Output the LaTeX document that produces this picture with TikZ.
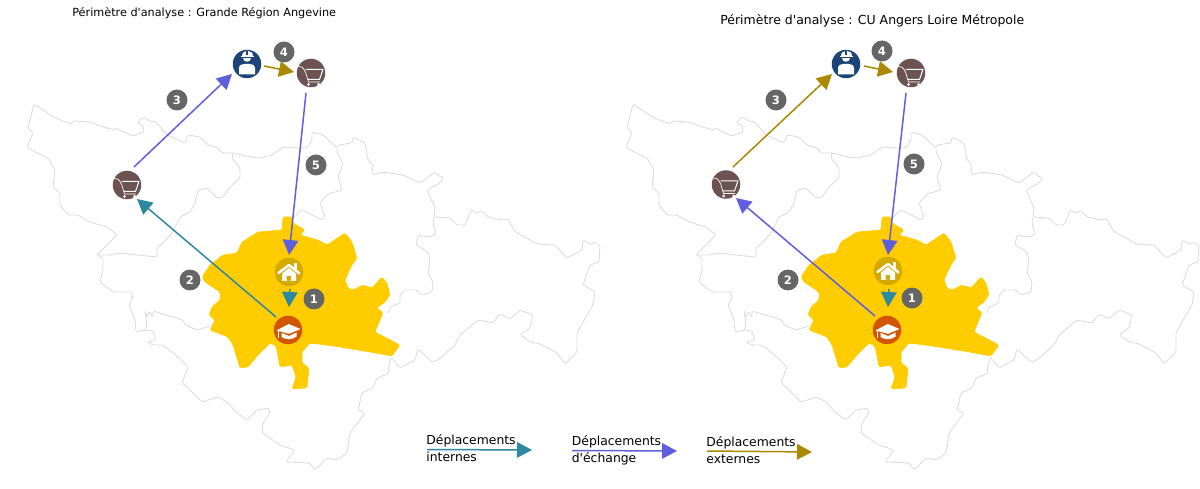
\documentclass[tikz,border=0pt]{standalone}
\usepackage{fontspec}
\setmainfont{DejaVu Sans}[Ligatures=TeXOff]
\usetikzlibrary{arrows.meta}
\definecolor{teal1}{HTML}{2C89A0}
\definecolor{purp1}{HTML}{5F5FDD}
\definecolor{gold1}{HTML}{AA8800}
\definecolor{outl}{HTML}{DDDDDD}
\definecolor{yel}{HTML}{FFCC00}
\definecolor{cartc}{HTML}{6C5353}
\definecolor{workc}{HTML}{1C4478}
\definecolor{housec}{HTML}{D4AA00}
\definecolor{studc}{HTML}{D45500}
\definecolor{badgec}{HTML}{666666}
\tikzset{
  flow/.style={line width=0.03cm,-{Triangle[length=0.3cm,width=0.31cm]}},
  tealflow/.style={flow,draw=teal1},
  purpflow/.style={flow,draw=purp1},
  goldflow/.style={flow,draw=gold1},
  limit/.style={draw=outl,line width=0.018cm,line join=round,rounded corners=0.03cm},
  icon/.style={circle,minimum size=0.57cm,inner sep=0pt},
  badge/.style={circle,fill=badgec,text=white,minimum size=0.42cm,inner sep=0pt,font=\fontsize{6.6}{7}\selectfont\bfseries},
  titlea/.style={anchor=base west,inner sep=0pt,font=\fontsize{6.4}{8}\selectfont},
  titleb/.style={anchor=base west,inner sep=0pt,font=\fontsize{7.1}{8}\selectfont},
  legend/.style={anchor=base west,inner sep=0pt,font=\fontsize{7.05}{8}\selectfont},
  basemap/.pic={
    \fill[yel,draw=yel,line width=0.01cm,line join=round,rounded corners=0.03cm] (202,277)--(210,265)--(223,255)--(237,253)--(242,242)--(258,232)--(282,230)--(283,217)--(292,217)--(293,223)--(305,230)--(300,235)--(318,240)--(327,245)--(345,233)--(352,242)--(357,258)--(352,265)--(345,280)--(348,288)--(353,290)--(363,285)--(372,288)--(382,277)--(387,283)--(390,295)--(385,302)--(377,308)--(383,313)--(375,332)--(400,345)--(392,356)--(370,352)--(333,346)--(310,343)--(302,352)--(302,363)--(309,368)--(307,388)--(292,389)--(296,377)--(292,365)--(280,367)--(276,346)--(270,343)--(258,355)--(248,367)--(240,368)--(233,345)--(228,337)--(210,330)--(215,320)--(209,315)--(212,307)--(220,300)--(220,292)--(205,282)--cycle;
    \draw[limit] (34,104)--(43,110)--(50,115)--(60,120)--(72,124)--(73,121)--(90,122)--(103,127)--(115,130)--(117,127)--(119,130)--(133,136)--(144,132)--(143,125)--(137,123)--(143,117)--(152,122)--(155,121)--(167,135)--(185,143)--(188,135)--(200,137)--(208,145)--(218,148)--(222,153)--(233,153)--(250,157)--(258,158)--(272,155)--(283,147)--(298,148)--(307,148)--(312,140)--(312,132)--(323,135)--(337,148)--(338,145)--(352,143)--(353,137)--(365,143)--(368,160)--(373,165)--(372,175)--(383,172)--(403,175)--(420,183)--(435,172)--(440,177)--(444,177)--(440,183)--(427,190)--(435,208)--(434,217)--(450,218)--(457,225)--(465,225)--(472,209)--(475,213)--(482,211)--(488,217)--(502,220)--(508,219)--(515,232)--(525,237)--(537,244)--(555,245)--(567,258)--(582,250)--(583,240)--(592,245)--(593,242)--(600,245)--(599,262)--(590,265)--(583,285)--(595,292)--(593,305)--(583,322)--(577,333)--(577,352)--(565,364)--(557,353)--(538,343)--(532,343)--(520,335)--(530,328)--(533,315)--(520,310)--(510,319)--(500,314)--(493,323)--(478,320)--(460,335)--(455,345)--(438,360)--(432,362)--(418,349)--(415,360)--(400,368)--(391,357)--(388,370)--(390,373)--(377,378)--(373,388)--(362,393)--(358,410)--(365,413)--(350,433)--(347,453)--(337,460)--(327,458)--(315,470)--(310,463)--(286,462)--(295,450)--(280,445)--(262,433)--(263,423)--(270,413)--(268,408)--(257,410)--(247,420)--(237,413)--(227,402)--(218,397)--(202,402)--(188,388)--(182,383)--(188,367)--(178,357)--(163,345)--(153,345)--(147,342)--(156,340)--(153,331)--(145,330)--(136,332)--(135,320)--(129,305)--(133,298)--(132,292)--(113,292)--(100,282)--(103,270)--(103,258)--(97,255)--(117,235)--(107,227)--(90,222)--(78,215)--(68,215)--(60,205)--(60,193)--(53,187)--(55,170)--(48,158)--(37,153)--(27,147)--(33,133)--(28,128)--cycle;
    \draw[limit] (233,153)--(232,158)--(240,168)--(240,178)--(230,187)--(223,197)--(217,198)--(207,188)--(198,190)--(195,203)--(190,212)--(180,217)--(173,232)--(163,243)--(157,248)--(157,257)--(137,255)--(120,253)--(110,255)--(97,255);
    \draw[limit] (145,330)--(147,325)--(145,310)--(147,318)--(149,311)--(153,318)--(153,311)--(183,320)--(185,325)--(197,330)--(210,326);
    \draw[limit] (337,148)--(337,153)--(343,163)--(338,177)--(342,190)--(328,194)--(320,203)--(325,217)--(322,220)--(312,215)--(302,210)--(294,217);
    \draw[limit] (434,217)--(433,223)--(436,235)--(428,237)--(418,235)--(416,245)--(428,252)--(430,260)--(428,273)--(433,282)--(432,292)--(422,295)--(417,290)--(405,290)--(400,295)--(400,303)--(390,307)--(388,313);
  },
  cartpic/.pic={
    \draw[white,line width=0.014cm,line cap=round,line join=round] (-12.5,-6.5) .. controls (-8,-6.5) and (-7,-4) .. (-5.5,-1) -- (-2.5,9) -- (9,9);
    \draw[white,line width=0.02cm,line join=round] (-5.5,-3.7)--(12,-3.7)--(8.5,6.5)--(-2.8,6.5);
    \fill[white] (-2.5,11.5) circle (1.5) (7.5,11.5) circle (1.5);
  },
  workerpic/.pic={
    \fill[white] (-5.5,-7.5) .. controls (-5.5,-14.5) and (5.5,-14.5) .. (5.5,-7.5) -- cycle;
    \fill[white] (-6.5,-7.5) rectangle (6.5,-6.7);
    \fill[white] (-4.4,-5.9) .. controls (-4.4,-1) and (4.4,-1) .. (4.4,-5.9) -- cycle;
    \fill[white] (-8,10.5) -- (-8,4) .. controls (-8,0.5) and (-4,0) .. (-2.5,0) -- (2.5,0) .. controls (4,0) and (8,0.5) .. (8,4) -- (8,10.5) -- cycle;
    \fill[workc] (-0.8,-13) rectangle (0.8,-9);
  },
  housepic/.pic={
    \draw[white,line width=0.05cm,line cap=round,line join=round] (-10.5,1) -- (0,-7) -- (10.5,1.5);
    \fill[white] (5,-9) rectangle (8,-3);
    \fill[white,even odd rule] (0,-4) -- (7,1.5) -- (7,9) -- (-7,9) -- (-7,1.5) -- cycle (-2.5,4) rectangle (2,9);
  },
  studpic/.pic={
    \fill[white] (-11.5,0.5) -- (0.7,-6) -- (12.5,-1) -- (1,3.8) -- cycle;
    \fill[white] (-6.5,2.8) -- (1,6) -- (8.5,2.5) -- (8.5,6.5) .. controls (4,10) and (-2,10) .. (-6.5,7) -- cycle;
    \draw[white,line width=0.02cm] (-9.8,1) -- (-9.8,8);
  }
}
\begin{document}
\begin{tikzpicture}[x=0.02cm,y=-0.02cm]
\useasboundingbox (0,0) rectangle (1200,489);
\pic at (0,0) {basemap};
\pic at (599,0) {basemap};

% left panel
\node[titlea] (tl) at (72,17) {Périmètre d'analyse : Grande Région Angevine};
\node[icon,fill=cartc] (lcartw) at (127,185) {};
\node[icon,fill=workc] (lwork) at (247,64) {};
\node[icon,fill=cartc] (lcarte) at (311,73) {};
\node[icon,fill=housec] (lhome) at (289,272) {};
\node[icon,fill=studc] (lstud) at (288,330) {};
\pic at (lcartw) {cartpic};
\pic at (lcarte) {cartpic};
\pic at (lwork) {workerpic};
\pic at (lhome) {housepic};
\pic at (lstud) {studpic};
\node[badge] (lb1) at (314,299) {1};
\node[badge] (lb2) at (190,280) {2};
\node[badge] (lb3) at (177,100) {3};
\node[badge] (lb4) at (284,52) {4};
\node[badge] (lb5) at (316,165) {5};
\draw[tealflow] ([shift={(1,17)}]lhome.center) -- ([shift={(1,-23)}]lstud.center);
\draw[tealflow] ([shift={(-12,-13)}]lstud.center) -- ([shift={(10,14)}]lcartw.center);
\draw[purpflow] ([shift={(7,-18)}]lcartw.center) -- ([shift={(-15,10)}]lwork.center);
\draw[goldflow] ([shift={(17,2)}]lwork.center) -- ([shift={(-17,-1)}]lcarte.center);
\draw[purpflow] ([shift={(-5,20)}]lcarte.center) -- ([shift={(0,-17)}]lhome.center);

% right panel
\node[titleb] (tr) at (720,25) {Périmètre d'analyse : CU Angers Loire Métropole};
\node[icon,fill=cartc] (rcartw) at (726,184.5) {};
\node[icon,fill=workc] (rwork) at (846,64) {};
\node[icon,fill=cartc] (rcarte) at (911,73) {};
\node[icon,fill=housec] (rhome) at (888,271) {};
\node[icon,fill=studc] (rstud) at (887,330) {};
\pic at (rcartw) {cartpic};
\pic at (rcarte) {cartpic};
\pic at (rwork) {workerpic};
\pic at (rhome) {housepic};
\pic at (rstud) {studpic};
\node[badge] (rb1) at (912,298) {1};
\node[badge] (rb2) at (788,280) {2};
\node[badge] (rb3) at (776,100) {3};
\node[badge] (rb4) at (882,51) {4};
\node[badge] (rb5) at (914,164) {5};
\draw[tealflow] ([shift={(1,18)}]rhome.center) -- ([shift={(1,-23)}]rstud.center);
\draw[purpflow] ([shift={(-12,-14)}]rstud.center) -- ([shift={(10,13.5)}]rcartw.center);
\draw[goldflow] ([shift={(7,-17.5)}]rcartw.center) -- ([shift={(-14,10)}]rwork.center);
\draw[goldflow] ([shift={(18,2)}]rwork.center) -- ([shift={(-18,-1)}]rcarte.center);
\draw[purpflow] ([shift={(-5,20)}]rcarte.center) -- ([shift={(0,-16)}]rhome.center);

% legend
\node[legend] (l1a) at (426,444) {Déplacements};
\node[legend] (l1b) at (426,461) {internes};
\node[legend] (l2a) at (571.5,445) {Déplacements};
\node[legend] (l2b) at (571.5,462) {d'échange};
\node[legend] (l3a) at (706,446) {Déplacements};
\node[legend] (l3b) at (706,463) {externes};
\coordinate (k1s) at (427,449.5); \coordinate (k1e) at (532,450);
\coordinate (k2s) at (572,450.5); \coordinate (k2e) at (677,451);
\coordinate (k3s) at (707,451); \coordinate (k3e) at (812,452);
\draw[tealflow] (k1s) -- (k1e);
\draw[purpflow] (k2s) -- (k2e);
\draw[goldflow] (k3s) -- (k3e);
\end{tikzpicture}
\end{document}
